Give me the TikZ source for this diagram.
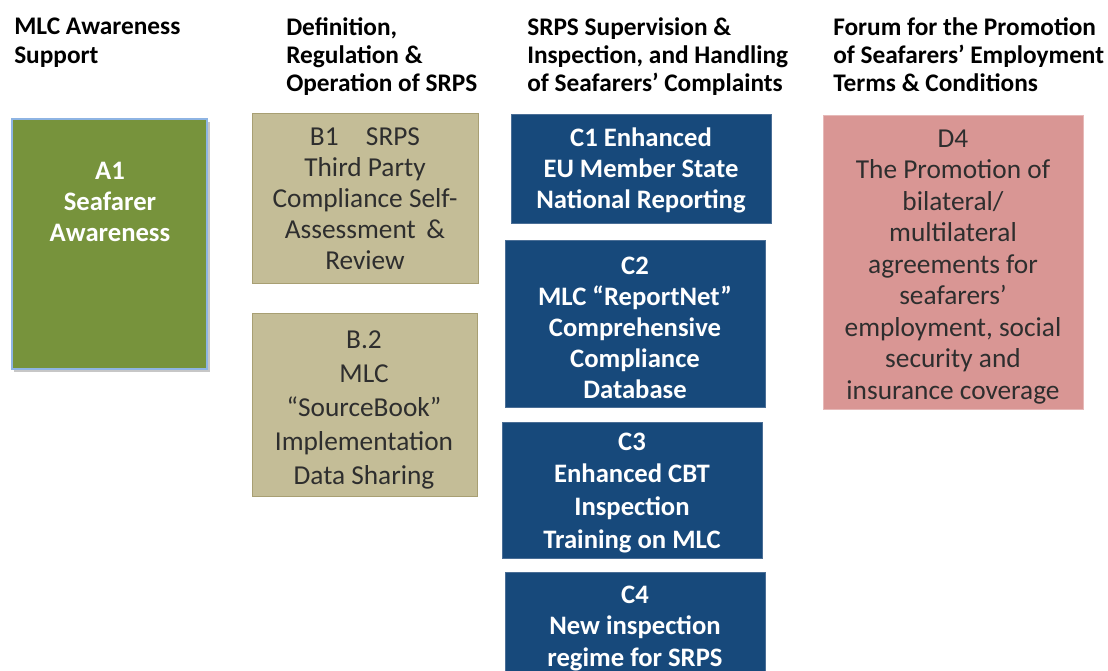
\documentclass[tikz,border=0pt]{standalone}
\usepackage{fontspec}
\setmainfont{Carlito}
\definecolor{agreen}{HTML}{77933C}
\definecolor{agreenb}{HTML}{8EB4E3}
\definecolor{btan}{HTML}{C4BD97}
\definecolor{btanb}{HTML}{A89F73}
\definecolor{cblue}{HTML}{17497B}
\definecolor{cblueb}{HTML}{4A6E96}
\definecolor{dpink}{HTML}{D99694}
\definecolor{dpinkb}{HTML}{E6B9B8}
\definecolor{txtgray}{HTML}{2E2E2E}
\tikzset{
  hdr/.style={anchor=base west,inner sep=0pt,align=left,font=\fontsize{19pt}{21pt}\selectfont\bfseries,text=black},
  boxa/.style={draw=agreenb,line width=0.8pt,fill=agreen},
  boxb/.style={draw=btanb,line width=0.6pt,fill=btan},
  boxc/.style={draw=cblueb,line width=0.6pt,fill=cblue},
  boxd/.style={draw=dpinkb,line width=0.6pt,fill=dpink},
  txtw/.style={anchor=base,inner sep=0pt,align=center,text=white,font=\fontsize{20pt}{23.25pt}\selectfont\bfseries},
  txtd/.style={anchor=base,inner sep=0pt,align=center,text=txtgray},
}
\begin{document}
\begin{tikzpicture}[x=0.75pt,y=-0.75pt]
\useasboundingbox (0,0) rectangle (1108,671);
\clip (0,0) rectangle (1108,671);
\fill[white] (0,0) rectangle (1108,671);
% headers (anchor = baseline of last line)
\node[hdr] (hA) at (14,63) {MLC Awareness\\Support};
\node[hdr] (hB) at (286,91) {Definition,\\Regulation \&\\Operation of SRPS};
\node[hdr] (hC) at (527,91) {SRPS Supervision \&\\Inspection, and Handling\\of Seafarers’ Complaints};
\node[hdr] (hD) at (833,91) {Forum for the Promotion\\of Seafarers’ Employment\\Terms \& Conditions};
% shadow for A1
\fill[black!22] (14,122) rectangle (210,372);
% boxes
\draw[boxa] (12,119) rectangle (207,369);
\node[txtw] (A1) at (110,241) {A1\\Seafarer\\Awareness};
\draw[boxb] (252,113) rectangle (478,283);
\node[txtd,font=\fontsize{20.5pt}{23.25pt}\selectfont] (B1) at (365,269) {B1\quad SRPS\\Third Party\\Compliance Self-\\Assessment \,\&\\Review};
\draw[boxb] (252,313) rectangle (477,496);
\node[txtd,font=\fontsize{20.5pt}{25.5pt}\selectfont] (B2) at (364,484) {B.2\\MLC\\“SourceBook”\\Implementation\\Data Sharing};
\draw[boxc] (511,114) rectangle (771,223);
\node[txtw,font=\fontsize{20pt}{23.25pt}\selectfont\bfseries] (C1) at (641,208) {C1 Enhanced\\EU Member State\\National Reporting};
\draw[boxc] (505,240) rectangle (765,407);
\node[txtw,font=\fontsize{20pt}{23.25pt}\selectfont\bfseries] (C2) at (635,398) {C2\\MLC “ReportNet”\\Comprehensive\\Compliance\\Database};
\draw[boxc] (502,422) rectangle (762,558);
\node[txtw,font=\fontsize{20pt}{24.5pt}\selectfont\bfseries] (C3) at (632,548) {C3\\Enhanced CBT\\Inspection\\Training on MLC};
\draw[boxc] (505,572) rectangle (765,690);
\node[txtw,font=\fontsize{20pt}{23.6pt}\selectfont\bfseries] (C4) at (635,666) {C4\\New inspection\\regime for SRPS};
\draw[boxd] (823,115) rectangle (1083,409);
\node[txtd,font=\fontsize{20.5pt}{23.6pt}\selectfont] (D4) at (953,399) {D4\\The Promotion of\\bilateral/\\multilateral\\agreements for\\seafarers’\\employment, social\\security and\\insurance coverage};
\end{tikzpicture}
\end{document}
